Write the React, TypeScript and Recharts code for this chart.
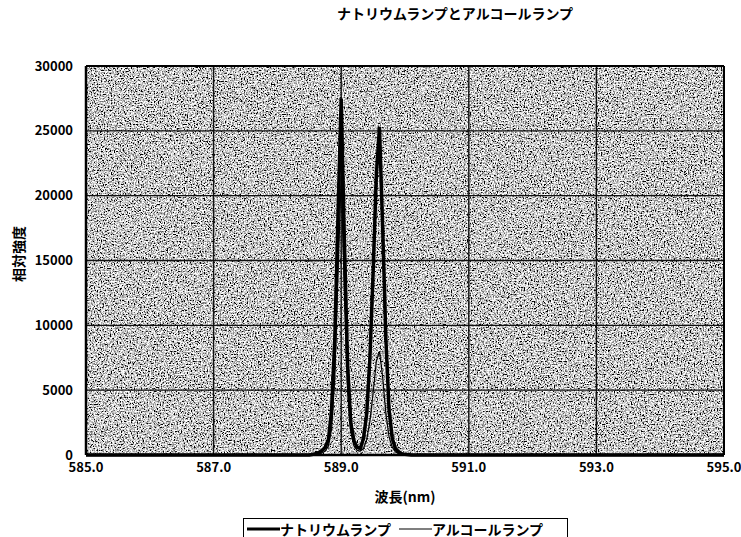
import React from 'react';
import {
  LineChart,
  Line,
  XAxis,
  YAxis,
  CartesianGrid,
  Legend,
  ReferenceLine,
} from 'recharts';

const FONT = '"Noto Sans CJK JP", "Noto Sans", sans-serif';

const TITLE = 'ナトリウムランプとアルコールランプ';
const X_LABEL = '波長(nm)';
const Y_LABEL = '相対強度';
const SERIES_NAMES = ['ナトリウムランプ', 'アルコールランプ'];

// wavelength (nm)
const wavelengths = [
  585.0, 586.0, 587.0, 588.0, 588.5, 588.6, 588.65, 588.7, 588.75, 588.8, 588.85, 588.9, 588.95,
  589.0, 589.05, 589.1, 589.15, 589.2, 589.25, 589.3, 589.35, 589.4, 589.45, 589.5, 589.55,
  589.6, 589.65, 589.7, 589.75, 589.8, 589.85, 589.9, 589.95, 590.0, 590.1, 590.5, 591.0,
  592.0, 593.0, 594.0, 595.0,
];

// sodium lamp (thick line)
const naIntensity = [
  0, 0, 0, 0, 0, 100, 200, 350, 600, 1200, 3500, 9000, 18500,
  27500, 16500, 7000, 2500, 1100, 600, 500, 1300, 3200, 7500, 14000, 21500,
  25300, 17500, 9000, 3500, 1300, 500, 250, 100, 50, 0, 0, 0,
  0, 0, 0, 0,
];

// alcohol lamp (thin line)
const alcoholIntensity = [
  0, 0, 0, 0, 0, 0, 50, 150, 300, 700, 2000, 6000, 14000,
  21500, 12500, 5000, 1800, 700, 350, 300, 500, 1200, 2600, 4800, 7200,
  8000, 6000, 3200, 1400, 600, 250, 100, 50, 0, 0, 0, 0,
  0, 0, 0, 0,
];

const xTicks = [585, 587, 589, 591, 593, 595];
const yTicks = [0, 5000, 10000, 15000, 20000, 25000, 30000];

const data = wavelengths.map((wl, i) => ({
  wl,
  na: naIntensity[i],
  alcohol: alcoholIntensity[i],
}));

const tickStyle = { fill: '#000', fontSize: 13, fontWeight: 700, fontFamily: FONT };

const renderLegend = () => (
  <div
    style={{
      border: '1px solid #000',
      height: 21,
      boxSizing: 'border-box',
      display: 'flex',
      alignItems: 'center',
      paddingLeft: 3,
      fontFamily: FONT,
      fontSize: 14,
      fontWeight: 700,
      lineHeight: '16px',
      color: '#000',
      background: '#fff',
    }}
  >
    <svg width={33} height={10}>
      <line x1={0} y1={5} x2={33} y2={5} stroke="#000" strokeWidth={3} />
    </svg>
    <span style={{ marginRight: 8 }}>{SERIES_NAMES[0]}</span>
    <svg width={33} height={10}>
      <line x1={0} y1={5} x2={33} y2={5} stroke="#000" strokeWidth={1.2} />
    </svg>
    <span>{SERIES_NAMES[1]}</span>
  </div>
);

export default function App() {
  return (
    <div style={{ position: 'absolute', left: 0, top: 0, width: 741, height: 537, background: '#fff' }}>
      <LineChart
        width={741}
        height={537}
        data={data}
        margin={{ top: 66, right: 17, bottom: 32, left: 0 }}
      >
        <defs>
          <filter id="grain" x="0" y="0" width="1" height="1">
            <feTurbulence type="fractalNoise" baseFrequency="0.7" numOctaves="3" seed="5" />
            <feColorMatrix
              type="matrix"
              values="3 0 0 0 -0.92  3 0 0 0 -0.92  3 0 0 0 -0.92  0 0 0 0 1"
            />
          </filter>
          <pattern id="halftone" patternUnits="userSpaceOnUse" width="741" height="537">
            <rect width="741" height="537" fill="#999" filter="url(#grain)" />
          </pattern>
        </defs>
        <text
          x={455}
          y={19}
          textAnchor="middle"
          fontFamily={FONT}
          fontSize={14}
          fontWeight={700}
          fill="#000"
        >
          {TITLE}
        </text>
        <CartesianGrid fill="url(#halftone)" stroke="#111" strokeWidth={1.4} />
        <XAxis
          dataKey="wl"
          type="number"
          domain={[585, 595]}
          ticks={xTicks}
          tickFormatter={(v: number) => v.toFixed(1)}
          tick={tickStyle}
          tickLine={false}
          axisLine={{ stroke: '#000', strokeWidth: 2.5 }}
          height={50}
          label={{
            value: X_LABEL,
            position: 'insideBottom',
            offset: 3,
            style: { fill: '#000', fontSize: 14, fontWeight: 700, fontFamily: FONT },
          }}
        />
        <YAxis
          type="number"
          domain={[0, 30000]}
          ticks={yTicks}
          tick={tickStyle}
          tickLine={false}
          tickMargin={7}
          axisLine={{ stroke: '#000', strokeWidth: 2.5 }}
          width={86}
          label={{
            content: () => (
              <text
                x={18}
                y={254}
                transform="rotate(-90 18 254)"
                textAnchor="middle"
                dominantBaseline="central"
                fontFamily={FONT}
                fontSize={14}
                fontWeight={700}
                fill="#000"
              >
                {Y_LABEL}
              </text>
            ),
          }}
        />
        <ReferenceLine y={30000} stroke="#000" strokeWidth={2} />
        <ReferenceLine x={595} stroke="#000" strokeWidth={2} />
        <Line
          dataKey="na"
          name={SERIES_NAMES[0]}
          type="linear"
          stroke="#000"
          strokeWidth={3.5}
          dot={false}
          isAnimationActive={false}
        />
        <Line
          dataKey="alcohol"
          name={SERIES_NAMES[1]}
          type="linear"
          stroke="#000"
          strokeWidth={1.2}
          dot={false}
          isAnimationActive={false}
        />
        <Legend
          verticalAlign="middle"
          align="center"
          layout="horizontal"
          wrapperStyle={{ top: 518, left: 243, width: 325, height: 21 }}
          content={renderLegend}
        />
      </LineChart>
    </div>
  );
}
